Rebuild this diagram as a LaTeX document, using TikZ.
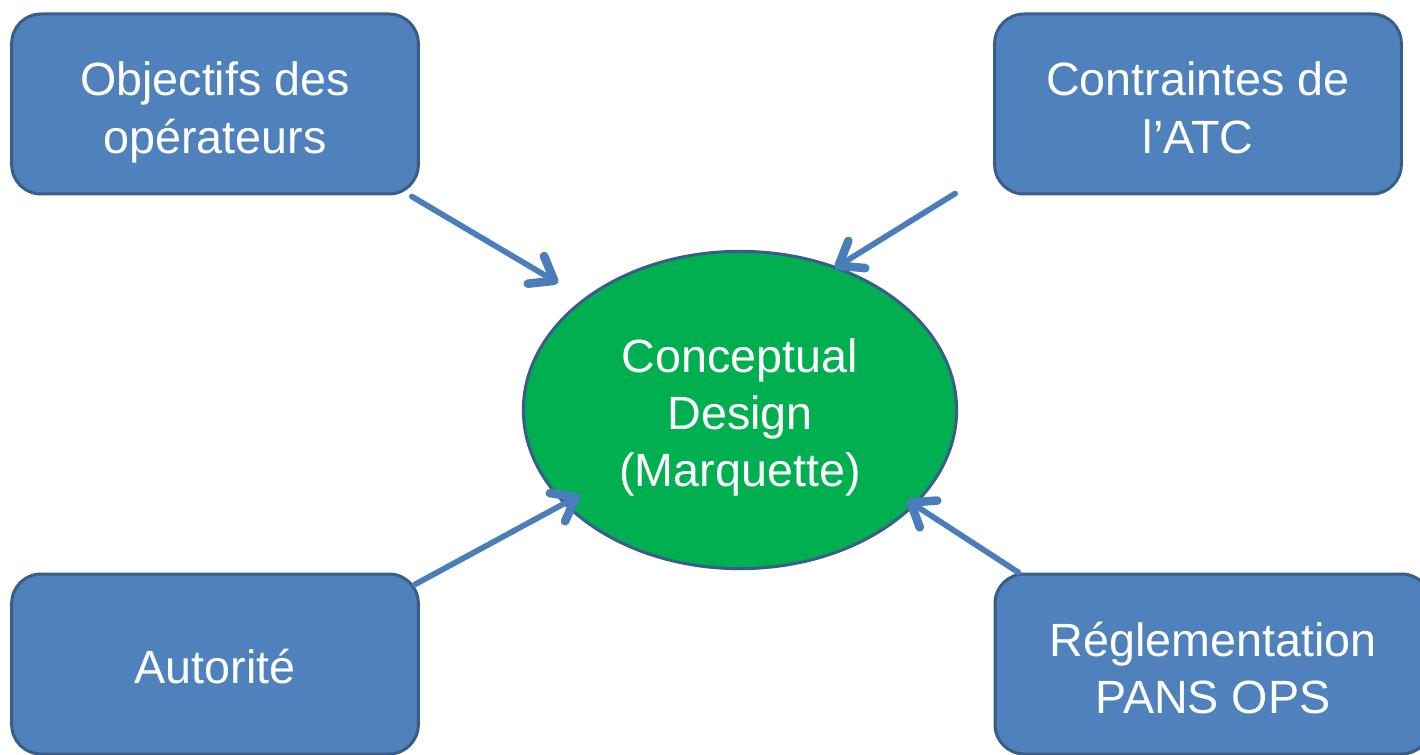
\documentclass[tikz,border=0pt]{standalone}
\usepackage{fontspec}
\setmainfont{Liberation Sans}
\usetikzlibrary{arrows.meta,shapes.geometric}

\definecolor{boxblue}{HTML}{4F81BD}
\definecolor{edgeblue}{HTML}{385D8A}
\definecolor{flowblue}{HTML}{4A7EBB}
\definecolor{designgreen}{HTML}{00B050}

\tikzset{
  boxtext/.style={text=white, align=center, inner sep=0pt,
    font=\fontsize{35}{43}\selectfont, text height=35.7pt, text depth=7pt},
  twolines/.style={text height=81pt},
  threelines/.style={text height=122pt},
  inputbox/.style={boxtext, draw=edgeblue, fill=boxblue, line width=2.25pt, rounded corners=22pt,
    minimum width=305pt, minimum height=135pt},
  designnode/.style={boxtext, ellipse, draw=edgeblue, fill=designgreen, line width=2.25pt,
    minimum width=325pt, minimum height=238pt},
  flow/.style={draw=flowblue, line width=4.3pt, line cap=round,
    -{Straight Barb[length=16pt,width=24pt,line width=0pt 1.5,round]}}
}

\begin{document}
\begin{tikzpicture}[x=0.75pt,y=0.75pt,yscale=-1,xscale=1]
    \useasboundingbox (0,0) rectangle (1420,755);

    % central ellipse and the four inputs
    \node [designnode, threelines] (design) at (740,410) {Conceptual\\Design\\(Marquette)};
    \node [inputbox, twolines] (objectifs) at (215,104) {Objectifs des\\op\'erateurs};
    \node [inputbox, twolines] (atc) at (1198,104) {Contraintes de\\l’ATC};
    \node [inputbox] (autorite) at (215,664) {Autorit\'e};
    \node [inputbox, twolines, minimum width=327pt] (pansops) at (1213,664) {R\'eglementation\\PANS OPS};

    % arrows into the design
    \draw [flow] ([shift={(-8,1)}]objectifs.south east) -- ([shift={(-182,-127)}]design.center);
    \draw [flow] ([shift={(-38,-2)}]atc.south west) -- ([shift={(95,-142)}]design.center);
    \draw [flow] ([shift={(-5,12)}]autorite.north east) -- ([shift={(-160,85)}]design.center);
    \draw [flow] ([shift={(25,0)}]pansops.north west) -- ([shift={(167,90)}]design.center);
\end{tikzpicture}
\end{document}
